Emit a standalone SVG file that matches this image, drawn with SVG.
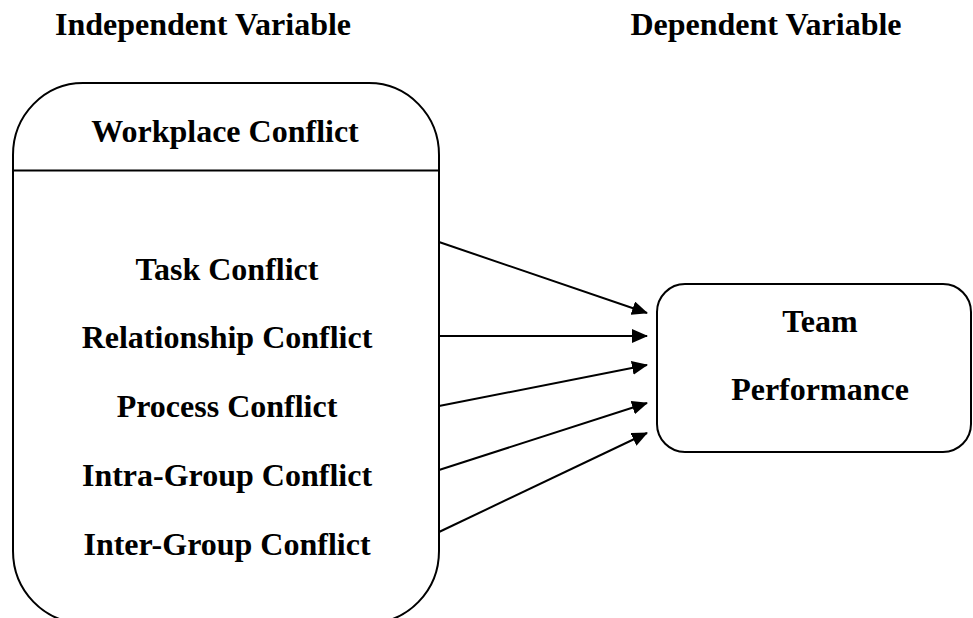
<svg xmlns="http://www.w3.org/2000/svg" width="973" height="618" viewBox="0 0 973 618">
<defs>
<style>
text{font-family:"Liberation Serif","Times New Roman",serif;font-weight:bold;font-size:32px;fill:#000;text-anchor:middle}
.box{fill:none;stroke:#000;stroke-width:2}
.conn line{stroke:#000;stroke-width:2;marker-end:url(#ah)}
</style>
<marker id="ah" markerWidth="16" markerHeight="14" refX="15" refY="7" orient="auto" markerUnits="userSpaceOnUse">
<path d="M0,0 L16,7 L0,14 Z" fill="#000"/>
</marker>
</defs>
<rect width="973" height="618" fill="#fff"/>
<g id="headings">
<text x="203" y="35">Independent Variable</text>
<text x="766" y="35">Dependent Variable</text>
</g>
<g id="workplace-conflict">
<rect class="box" x="13" y="83" width="426" height="540" rx="70" ry="72"/>
<line x1="13" y1="170.5" x2="439" y2="170.5" stroke="#000" stroke-width="2"/>
<text x="225" y="142">Workplace Conflict</text>
<text x="227" y="280">Task Conflict</text>
<text x="227" y="348">Relationship Conflict</text>
<text x="227" y="417">Process Conflict</text>
<text x="227" y="486">Intra-Group Conflict</text>
<text x="227" y="555">Inter-Group Conflict</text>
</g>
<g id="team-performance">
<rect class="box" x="657" y="284" width="314" height="168" rx="28" ry="28"/>
<text x="820" y="332">Team</text>
<text x="820" y="400">Performance</text>
</g>
<g id="connectors" class="conn">
<line x1="439" y1="242" x2="647" y2="313"/>
<line x1="439" y1="336" x2="647" y2="336"/>
<line x1="439" y1="406" x2="647" y2="365"/>
<line x1="439" y1="470" x2="647" y2="403"/>
<line x1="439" y1="532" x2="647" y2="433"/>
</g>
</svg>
